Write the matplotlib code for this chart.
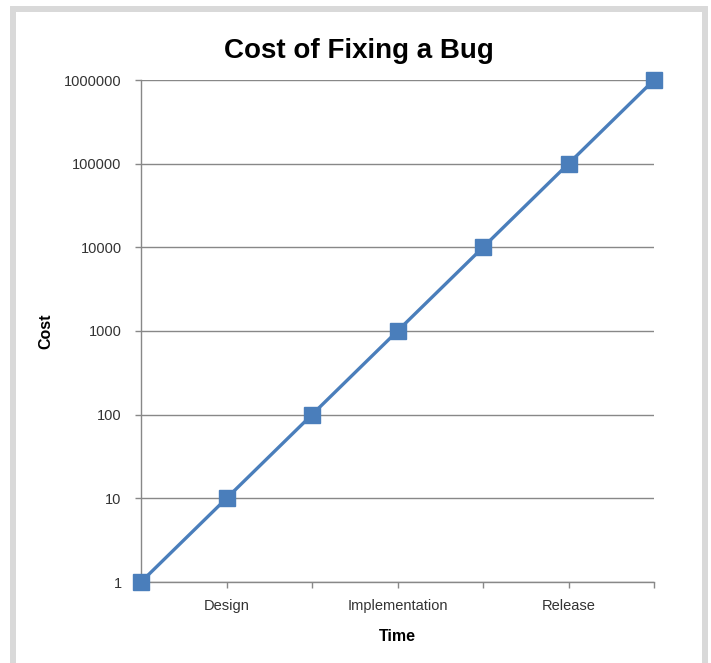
import numpy as np
import matplotlib.pyplot as plt
from matplotlib.patches import Rectangle

plt.rcParams['font.family'] = ['Liberation Sans', 'DejaVu Sans']

# data
stages = ['', 'Design', '', 'Implementation', '', 'Release', '']
cost = [1, 10, 100, 1000, 10000, 100000, 1000000]
y_ticks = [1, 10, 100, 1000, 10000, 100000, 1000000]

W, H = 711, 663
fig = plt.figure(figsize=(W/100, H/100), dpi=100)

# grey frame around the chart (bottom edge is cut off)
frame = Rectangle((13/W, -0.05), (705-13)/W, 1 + 0.05 - 9/H,
                  transform=fig.transFigure, fill=False,
                  edgecolor='#d9d9d9', linewidth=4.3, zorder=0)
fig.patches.append(frame)

ax = fig.add_axes([141/W, 1-582/H, (654-141)/W, (582-80)/H])

x = np.arange(len(cost))
ax.plot(x, cost, color='#4a7ebb', linewidth=2.4, marker='s',
        markersize=11, markerfacecolor='#4a7ebb', markeredgecolor='#4a7ebb',
        clip_on=False, zorder=3)

ax.set_yscale('log')
ax.set_ylim(1, 1000000)
ax.set_xlim(0, len(cost)-1)
ax.set_yticks(y_ticks)
ax.set_yticklabels([str(v) for v in y_ticks])
ax.yaxis.set_minor_locator(plt.NullLocator())
ax.set_xticks(x)
ax.set_xticklabels(stages)

ax.grid(axis='y', color='#888888', linewidth=1)
ax.set_axisbelow(True)
for s in ['top', 'right']:
    ax.spines[s].set_visible(False)
for s in ['left', 'bottom']:
    ax.spines[s].set_color('#888888')
    ax.spines[s].set_linewidth(1)

ax.tick_params(axis='both', colors='#888888', labelcolor='#333333',
               labelsize=10.5, length=4, width=1)
ax.tick_params(axis='x', pad=8)
ax.tick_params(axis='y', pad=10)

fig.text(359/W, 1-58/H, 'Cost of Fixing a Bug', fontsize=20,
         fontweight='bold', ha='center', va='baseline')
ax.set_xlabel('Time', fontsize=11.5, fontweight='bold')
ax.set_ylabel('Cost', fontsize=11.5, fontweight='bold')
ax.xaxis.set_label_coords(0.5, -(629-582)/(582-80))
ax.yaxis.set_label_coords(-(141-53)/(654-141), 0.5)

fig.savefig('out.png', dpi=100)
